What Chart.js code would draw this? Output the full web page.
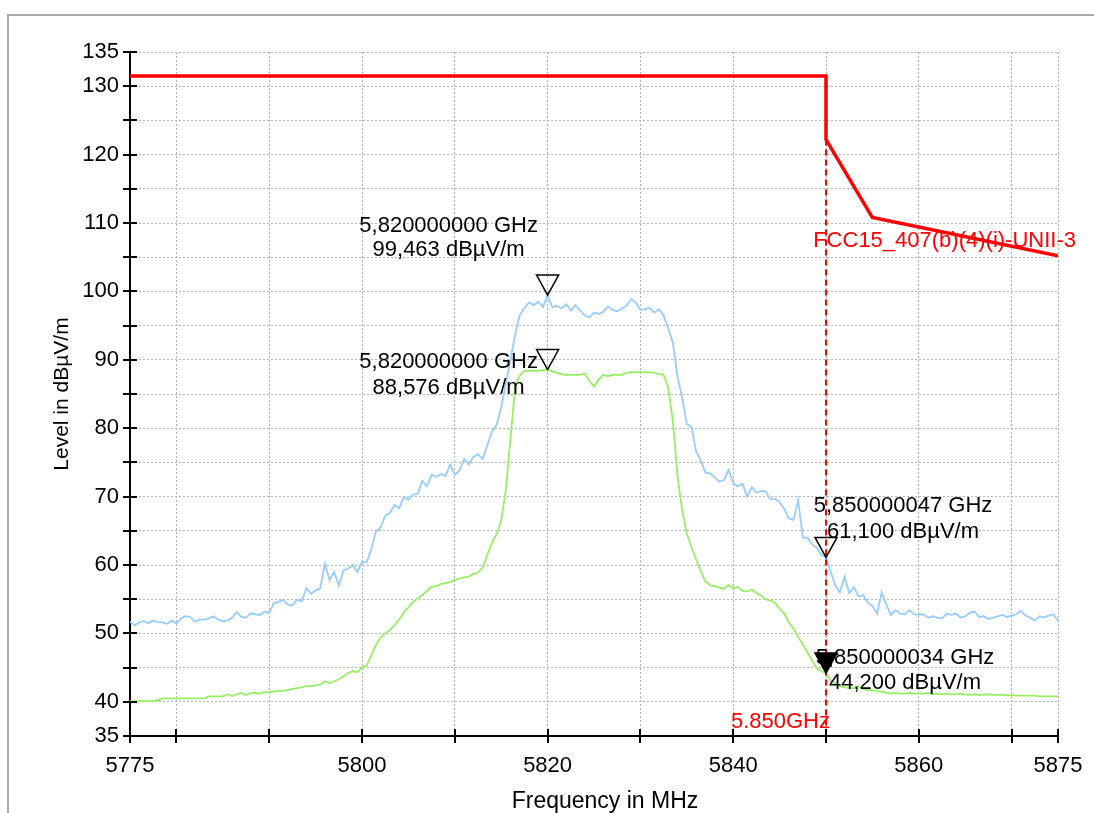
<!DOCTYPE html>
<html><head><meta charset="utf-8">
<script src="https://cdn.jsdelivr.net/npm/chart.js@4.4.1/dist/chart.umd.min.js"></script>
<style>
html,body{margin:0;padding:0;background:#fff;overflow:hidden}
#wrap{position:relative;width:1094px;height:813px;overflow:hidden}
#frame{position:absolute;left:7px;top:14px;width:1200px;height:900px;border-left:2px solid #ababab;border-top:2px solid #ababab}
canvas{position:absolute;left:0;top:0}
</style></head><body>
<div id="wrap"><div id="frame"></div><canvas id="c" width="1094" height="813"></canvas></div>
<script>
// ---- data ----
const freqMHz = [
5775,5775.5,5776,5776.5,5777,5777.5,5778,5778.5,5779,5779.5,
5780,5780.5,5781,5781.5,5782,5782.5,5783,5783.5,5784,5784.5,
5785,5785.5,5786,5786.5,5787,5787.5,5788,5788.5,5789,5789.5,
5790,5790.5,5791,5791.5,5792,5792.5,5793,5793.5,5794,5794.5,
5795,5795.5,5796,5796.5,5797,5797.5,5798,5798.5,5799,5799.5,
5800,5800.5,5801,5801.5,5802,5802.5,5803,5803.5,5804,5804.5,
5805,5805.5,5806,5806.5,5807,5807.5,5808,5808.5,5809,5809.5,
5810,5810.5,5811,5811.5,5812,5812.5,5813,5813.5,5814,5814.5,
5815,5815.5,5816,5816.5,5817,5817.5,5818,5818.5,5819,5819.5,
5820,5820.5,5821,5821.5,5822,5822.5,5823,5823.5,5824,5824.5,
5825,5825.5,5826,5826.5,5827,5827.5,5828,5828.5,5829,5829.5,
5830,5830.5,5831,5831.5,5832,5832.5,5833,5833.5,5834,5834.5,
5835,5835.5,5836,5836.5,5837,5837.5,5838,5838.5,5839,5839.5,
5840,5840.5,5841,5841.5,5842,5842.5,5843,5843.5,5844,5844.5,
5845,5845.5,5846,5846.5,5847,5847.5,5848,5848.5,5849,5849.5,
5850,5850.5,5851,5851.5,5852,5852.5,5853,5853.5,5854,5854.5,
5855,5855.5,5856,5856.5,5857,5857.5,5858,5858.5,5859,5859.5,
5860,5860.5,5861,5861.5,5862,5862.5,5863,5863.5,5864,5864.5,
5865,5865.5,5866,5866.5,5867,5867.5,5868,5868.5,5869,5869.5,
5870,5870.5,5871,5871.5,5872,5872.5,5873,5873.5,5874,5874.5,
5875];
const peakLevel = [
51.7,51.2,51.6,51.8,51.5,51.9,51.7,51.6,51.4,51.9,
51.4,52.2,52.5,52.4,51.7,52.0,52.0,52.2,52.5,52.0,
51.8,51.9,52.3,53.1,52.4,52.3,52.9,52.8,52.7,53.2,
53.0,54.4,54.6,54.9,54.2,54.1,54.9,54.7,56.6,55.8,
56.3,56.6,60.2,57.8,59.0,57.0,59.2,59.5,60.0,59.0,
60.4,60.4,62.3,64.9,65.5,67.2,67.6,68.8,68.3,69.9,
69.6,70.3,70.4,72.3,71.5,73.2,72.9,73.3,73.0,74.7,
73.2,73.8,75.5,74.7,75.8,76.2,75.5,77.5,79.5,80.5,
83.0,86.5,90.0,93.7,96.5,97.6,98.4,98.0,98.5,97.7,
99.463,97.7,97.9,97.5,98.1,97.2,98.0,97.2,96.5,96.2,
96.9,96.7,97.0,97.8,97.3,97.1,97.5,97.9,98.9,98.4,
97.3,97.4,97.6,96.9,97.4,96.5,94.6,92.5,87.5,84.5,
80.6,80.2,76.6,75.3,73.5,73.4,72.8,72.2,72.4,73.9,
72.0,71.5,71.9,70.0,71.4,70.6,70.8,70.8,69.6,69.7,
69.2,68.2,66.8,66.6,69.5,64.0,64.0,63.0,62.5,61.5,
61.1,59.0,57.0,56.0,58.3,55.9,56.8,55.4,55.6,54.5,
54.0,52.9,56.0,54.2,52.7,53.4,52.9,52.8,53.4,52.8,
52.7,52.8,52.3,52.5,52.3,52.2,52.9,52.7,52.9,52.3,
52.5,53.0,53.2,52.4,52.5,52.1,52.3,52.5,52.7,52.4,
52.6,52.8,53.3,52.6,52.3,51.9,52.5,52.3,52.6,52.8,
51.8];
const avgLevel = [
40.1,40.1,40.1,40.1,40.1,40.1,40.2,40.5,40.5,40.5,
40.5,40.5,40.5,40.5,40.5,40.5,40.5,40.8,40.8,40.8,
40.8,41.1,40.8,41.1,41.3,41.0,41.3,41.3,41.2,41.4,
41.4,41.5,41.6,41.6,41.7,41.9,42.0,42.1,42.3,42.3,
42.4,42.5,43.0,42.7,43.0,43.3,43.7,44.2,44.5,44.3,
45.0,45.3,46.8,48.3,49.4,50.0,50.5,51.2,52.0,53.1,
53.8,54.6,55.1,55.6,56.2,56.8,56.9,57.2,57.4,57.5,
57.8,58.0,58.2,58.3,58.7,58.9,59.6,61.5,63.2,64.5,
66.5,71.0,78.5,86.0,87.7,88.4,88.4,88.4,88.4,88.5,
88.576,88.3,88.1,87.9,87.8,87.8,87.8,87.8,88.0,86.9,
86.1,87.1,87.8,87.6,87.8,87.8,87.8,88.1,88.2,88.2,
88.2,88.2,88.2,88.1,87.9,87.8,86.0,81.0,73.0,68.0,
64.6,62.6,60.8,59.1,57.6,57.0,56.9,56.7,56.5,57.1,
56.6,56.8,56.2,56.1,56.4,55.9,55.5,55.0,54.8,54.5,
53.6,52.9,51.6,50.7,49.5,48.4,47.2,46.0,44.9,44.5,
44.2,43.1,42.7,42.3,42.1,42.0,42.0,42.3,41.9,41.7,
41.7,41.6,41.5,41.3,41.2,41.3,41.2,41.2,41.3,41.2,
41.2,41.2,41.3,41.1,41.2,41.1,41.2,41.1,41.1,41.2,
41.1,41.0,41.1,41.0,41.0,41.1,41.0,41.0,41.0,40.9,
41.0,40.9,40.9,40.9,40.9,40.9,40.8,40.8,40.8,40.8,
40.8];
const limitFreq = [5775, 5850, 5850, 5855, 5875];
const limitLevel = [131.5, 131.5, 122.2, 110.8, 105.2];
const limitName = 'FCC15_407(b)(4)(i)-UNII-3';
const bandEdgeMHz = 5850;
const bandEdgeLabel = '5.850GHz';
const markerFreqMHz = [5820, 5820, 5850.000047, 5850.000034];
const markerLevel = [99.463, 88.576, 61.1, 44.2];
const markerFilled = [false, false, false, true];
const xTickValues = [5775,5780,5790,5800,5810,5820,5830,5840,5850,5860,5870,5875];
const xTickLabels = ['5775','5800','5820','5840','5860','5875'];
const yTickValues = [35,40,45,50,55,60,65,70,75,80,85,90,95,100,105,110,115,120,125,130,135];
const yTickLabels = ['35','40','50','60','70','80','90','100','110','120','130','135'];
const xTitle = 'Frequency in MHz';
const yTitle = 'Level in dBµV/m';

// ---- layout / style (not data) ----
const FONT = "'Liberation Sans', Arial, sans-serif";
const markerLabelLayout = [
  {dx:-99, dy1:-69, dy2:-45},
  {dx:-99, dy1:-8, dy2:18},
  {dx:77, dy1:-52, dy2:-26},
  {dx:79, dy1:-15, dy2:10}
];

const pts = (xs, ys) => xs.map((x, i) => ({x: x, y: ys[i]}));

const overlay = {
  id: 'overlay',
  afterDraw(chart) {
    const c = chart.ctx, xs = chart.scales.x, ys = chart.scales.y, a = chart.chartArea;
    c.save();
    // crossing tick marks
    c.strokeStyle = '#000'; c.lineWidth = 2;
    xTickValues.forEach(v => {
      const px = Math.round(xs.getPixelForValue(v));
      c.beginPath(); c.moveTo(px, a.bottom - 7); c.lineTo(px, a.bottom + 7); c.stroke();
    });
    yTickValues.forEach(v => {
      const py = Math.round(ys.getPixelForValue(v));
      c.beginPath(); c.moveTo(a.left - 7, py); c.lineTo(a.left + 7, py); c.stroke();
    });
    // limit name
    c.fillStyle = '#ff0000';
    c.font = '22px ' + FONT;
    c.textBaseline = 'middle';
    c.textAlign = 'right';
    const lastI = limitFreq.length - 1;
    c.fillText(limitName, xs.getPixelForValue(limitFreq[lastI]) + 18, ys.getPixelForValue(limitLevel[lastI]) - 15);
    // band edge label
    c.fillText(bandEdgeLabel, xs.getPixelForValue(bandEdgeMHz) + 4, a.bottom - 14);
    // markers
    c.fillStyle = '#000';
    c.textAlign = 'center';
    markerFreqMHz.forEach((f, i) => {
      const px = xs.getPixelForValue(f), py = ys.getPixelForValue(markerLevel[i]);
      c.beginPath();
      c.moveTo(px, py); c.lineTo(px - 11, py - 20); c.lineTo(px + 11, py - 20); c.closePath();
      c.lineWidth = 1.5; c.strokeStyle = '#000';
      if (markerFilled[i]) c.fill();
      c.stroke();
      const L = markerLabelLayout[i];
      const t1 = (f / 1000).toFixed(9).replace('.', ',') + ' GHz';
      const t2 = markerLevel[i].toFixed(3).replace('.', ',') + ' dBµV/m';
      c.fillText(t1, px + L.dx, py + L.dy1);
      c.fillText(t2, px + L.dx, py + L.dy2);
    });
    // axis titles
    c.font = '23px ' + FONT;
    c.fillText(xTitle, 605, 802);
    c.font = '21px ' + FONT;
    c.save();
    c.translate(62, (a.top + a.bottom) / 2);
    c.rotate(-Math.PI / 2);
    c.fillText(yTitle, 0, 0);
    c.restore();
    c.restore();
  }
};

new Chart(document.getElementById('c'), {
  type: 'line',
  data: {
    datasets: [
      {label: 'Limit', data: pts(limitFreq, limitLevel), borderColor: '#ff0000', borderWidth: 3.5, pointRadius: 0, tension: 0, order: 0},
      {label: 'Band edge', data: pts([bandEdgeMHz, bandEdgeMHz], [limitLevel[2], yTickValues[0]]), borderColor: '#ff0000', borderWidth: 2, borderDash: [6, 4], pointRadius: 0, order: 1},
      {label: 'Peak', data: pts(freqMHz, peakLevel), borderColor: '#99ccff', borderWidth: 1.8, pointRadius: 0, tension: 0, order: 2},
      {label: 'Average', data: pts(freqMHz, avgLevel), borderColor: '#99ee66', borderWidth: 1.8, pointRadius: 0, tension: 0, order: 3}
    ]
  },
  options: {
    responsive: false,
    animation: false,
    events: [],
    layout: {padding: {left: 0, top: 52, right: 36, bottom: 0}},
    plugins: {legend: {display: false}, tooltip: {enabled: false}},
    scales: {
      x: {
        type: 'linear', min: xTickValues[0], max: xTickValues[xTickValues.length - 1],
        afterBuildTicks: s => { s.ticks = xTickValues.map(v => ({value: v})); },
        afterFit: s => { s.height = 77; s.paddingLeft = 0; s.paddingRight = 0; },
        ticks: {autoSkip: false, maxRotation: 0, minRotation: 0, padding: 17, color: '#000',
          font: {family: FONT, size: 22},
          callback: v => xTickLabels.includes(String(v)) ? String(v) : ''},
        grid: {color: '#b4b4b4', lineWidth: 1, drawTicks: false},
        border: {display: true, color: '#000', width: 2, dash: [2, 2]}
      },
      y: {
        type: 'linear', min: yTickValues[0], max: yTickValues[yTickValues.length - 1],
        afterBuildTicks: s => { s.ticks = yTickValues.map(v => ({value: v})); },
        afterFit: s => { s.width = 130; s.paddingTop = 0; s.paddingBottom = 0; },
        ticks: {autoSkip: false, padding: 11, color: '#000',
          font: {family: FONT, size: 22},
          callback: v => yTickLabels.includes(String(v)) ? String(v) : ''},
        grid: {color: '#b4b4b4', lineWidth: 1, drawTicks: false},
        border: {display: true, color: '#000', width: 2, dash: [2, 2]}
      }
    }
  },
  plugins: [overlay]
});
</script>
</body></html>
